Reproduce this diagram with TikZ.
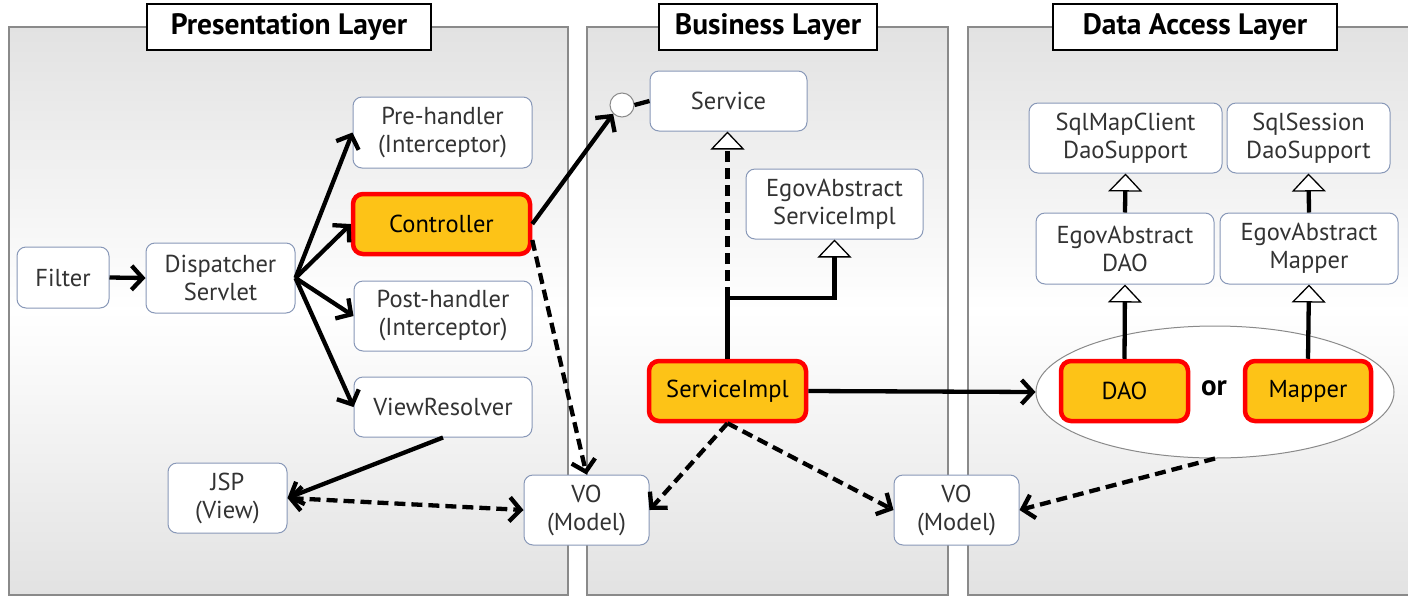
\documentclass[tikz,border=0pt]{standalone}
\usepackage{fontspec}
\setmainfont{PT Sans}
\usetikzlibrary{arrows.meta,shapes.geometric,calc}
\definecolor{txt}{HTML}{333333}
\definecolor{bordc}{HTML}{8898B8}
\definecolor{panelc}{HTML}{E2E2E2}
\definecolor{panelb}{HTML}{8A8A8A}
\definecolor{hlc}{HTML}{FDC317}
\begin{document}
\begin{tikzpicture}[x=1pt,y=-1pt,
  panel/.style={draw=panelb,line width=1.3pt,top color=panelc,bottom color=panelc,middle color=white},
  ttl/.style={draw=black,fill=white,line width=1.3pt,font=\bfseries\fontsize{29.5}{32}\selectfont,inner sep=0pt},
  box/.style={draw=bordc,fill=white,rounded corners=9pt,line width=1pt,text=txt,align=center,
    font=\fontsize{24.5}{28}\selectfont,inner sep=0pt},
  hl/.style={box,draw=red,line width=4.5pt,fill=hlc,text=black,rounded corners=10pt},
  arr/.style={line width=4.3pt,-{Straight Barb[length=11pt,width=24pt]}},
  darr/.style={line width=4.3pt,{Straight Barb[length=11pt,width=24pt]}-{Straight Barb[length=11pt,width=24pt]}},
  dsh/.style={dash pattern=on 11pt off 6pt},
  inh/.style={line width=4.3pt,-{Triangle[fill=white,line width=1.3pt,length=18pt,width=34pt]}}
]
\useasboundingbox (0,0) rectangle (1408,598);
\clip (0,0) rectangle (1408,598);
% panels
\path[panel] (9,27) rectangle (568,595);
\path[panel] (587,27) rectangle (948,595);
\path[panel] (968,27) rectangle (1420,595);
\node[ttl,minimum width=284pt,minimum height=46pt] (t1) at (289,27) {Presentation Layer};
\node[ttl,minimum width=218pt,minimum height=46pt] (t2) at (768,27) {Business Layer};
\node[ttl,minimum width=284pt,minimum height=46pt] (t3) at (1195,27) {Data Access Layer};
% presentation
\node[box,minimum width=92pt,minimum height=61pt] (filter) at (63,277.5) {Filter};
\node[box,minimum width=149pt,minimum height=70pt] (disp) at (220.5,278) {Dispatcher\\Servlet};
\node[box,minimum width=179pt,minimum height=71pt] (pre) at (442.5,132.5) {Pre-handler\\(Interceptor)};
\node[hl,minimum width=177pt,minimum height=60pt] (ctrl) at (441.5,224) {Controller};
\node[box,minimum width=178pt,minimum height=70pt] (post) at (443,316) {Post-handler\\(Interceptor)};
\node[box,minimum width=178pt,minimum height=60pt] (vr) at (443,407) {ViewResolver};
\node[box,minimum width=119pt,minimum height=70pt] (jsp) at (227.5,498) {JSP\\(View)};
\node[box,minimum width=125pt,minimum height=70pt] (vo1) at (586.5,510) {VO\\(Model)};
% business
\node[box,minimum width=157pt,minimum height=60pt] (service) at (728.5,101) {Service};
\node[circle,draw=panelb,fill=white,line width=1pt,minimum size=24pt,inner sep=0pt] (circ) at (622,105) {};
\node[box,minimum width=177pt,minimum height=70pt] (egovsvc) at (834.5,204) {EgovAbstract\\ServiceImpl};
\node[hl,minimum width=157pt,minimum height=60pt] (svcimpl) at (727.5,391) {ServiceImpl};
\node[box,minimum width=125pt,minimum height=70pt] (vo2) at (956.5,510) {VO\\(Model)};
% data access
\node[box,minimum width=193pt,minimum height=70pt] (sqlmap) at (1125.5,138) {SqlMapClient\\DaoSupport};
\node[box,minimum width=163pt,minimum height=70pt] (sqlsess) at (1308.5,138) {SqlSession\\DaoSupport};
\node[box,minimum width=178pt,minimum height=71pt] (egovdao) at (1125,248.5) {EgovAbstract\\DAO};
\node[box,minimum width=178pt,minimum height=71pt] (egovmap) at (1309,248.5) {EgovAbstract\\Mapper};
\node[ellipse,draw=panelb,fill=white,line width=1pt,minimum width=358pt,minimum height=132pt,inner sep=0pt] (ell) at (1215,392) {};
\node[hl,minimum width=127pt,minimum height=60pt] (dao) at (1124.5,391) {DAO};
\node[hl,minimum width=126pt,minimum height=60pt] (mapper) at (1308,391) {Mapper};
\node[font=\bfseries\fontsize{29}{30}\selectfont,text=black,inner sep=0pt] (or) at (1214,388) {or};
% connectors presentation
\draw[arr] (filter.east) -- (disp.west);
\draw[arr] (disp.east) -- (pre.west);
\draw[arr] (disp.east) -- (ctrl.west);
\draw[arr] (disp.east) -- (post.west);
\draw[arr] (disp.east) -- (vr.west);
\draw[arr] (ctrl.east) -- (circ.south west);
\draw[line width=4.3pt] (circ.east) -- (service.west);
\draw[arr,dsh] ($(ctrl.east)+(0,16)$) -- (vo1.north);
\draw[arr] (vr.south) -- (jsp.east);
\draw[darr,dsh] (jsp.east) -- (vo1.west);
% business connectors
\coordinate (j) at (727.5,298);
\draw[inh] (svcimpl.north) -- (j) -| (egovsvc.south);
\draw[inh,dsh] (j) -- (service.south -| j);
\draw[arr] (svcimpl.east) -- (ell.west);
\draw[arr,dsh] (svcimpl.south) -- (vo1.east);
\draw[arr,dsh] (svcimpl.south) -- (vo2.west);
% data access connectors
\draw[arr,dsh] (ell.south) -- (vo2.east);
\draw[inh] (dao.north) -- (egovdao.south);
\draw[inh] (mapper.north) -- (egovmap.south);
\draw[inh] (egovdao.north) -- (sqlmap.south);
\draw[inh] (egovmap.north) -- (sqlsess.south);
\end{tikzpicture}
\end{document}
